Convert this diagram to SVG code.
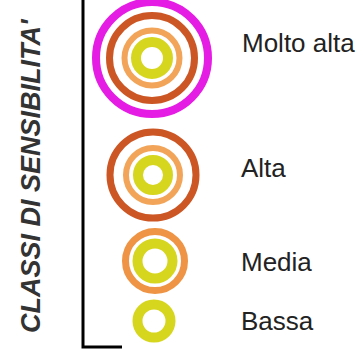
<svg xmlns="http://www.w3.org/2000/svg" width="363" height="349" viewBox="0 0 363 349">
  <style>
    .ring { fill: none; }
    .mag { stroke: #e41ce4; stroke-width: 8; }
    .dor { stroke: #cc5724; stroke-width: 7; }
    .lor { stroke: #f2a458; stroke-width: 6; }
    .yel { stroke: #d6d61e; stroke-width: 10; }
    .med { stroke: #ee9444; stroke-width: 7; }
    .lbl { font-family: "Liberation Sans", Arial, sans-serif; font-size: 26px; fill: #222; }
    .title { font-family: "Liberation Sans", Arial, sans-serif; font-size: 27px; font-weight: bold; font-style: italic; fill: #333; }
    .axis { stroke: #000; stroke-width: 3; fill: none; }
  </style>
  <rect width="363" height="349" fill="#fff"/>
  <g id="title">
    <text class="title" transform="translate(40,333) rotate(-90)">CLASSI DI SENSIBILITA'</text>
  </g>
  <g id="connectors">
    <polyline class="axis" points="83,0 83,347 122,347"/>
  </g>
  <g id="molto-alta">
    <circle class="ring mag" cx="152" cy="58" r="56"/>
    <circle class="ring dor" cx="152" cy="58" r="42.5"/>
    <circle class="ring lor" cx="152" cy="58" r="27.5"/>
    <circle class="ring yel" cx="152" cy="58" r="16"/>
    <text class="lbl" x="242" y="52">Molto alta</text>
  </g>
  <g id="alta">
    <circle class="ring dor" cx="153" cy="175" r="43"/>
    <circle class="ring lor" cx="153" cy="175" r="27"/>
    <circle class="ring yel" cx="153" cy="175" r="15"/>
    <text class="lbl" x="241" y="177">Alta</text>
  </g>
  <g id="media">
    <circle class="ring med" cx="155" cy="261" r="29.5"/>
    <circle class="ring yel" cx="155" cy="261" r="17.5"/>
    <text class="lbl" x="241" y="271">Media</text>
  </g>
  <g id="bassa">
    <circle class="ring yel" cx="154" cy="321" r="16.5"/>
    <text class="lbl" x="241" y="330">Bassa</text>
  </g>
</svg>
